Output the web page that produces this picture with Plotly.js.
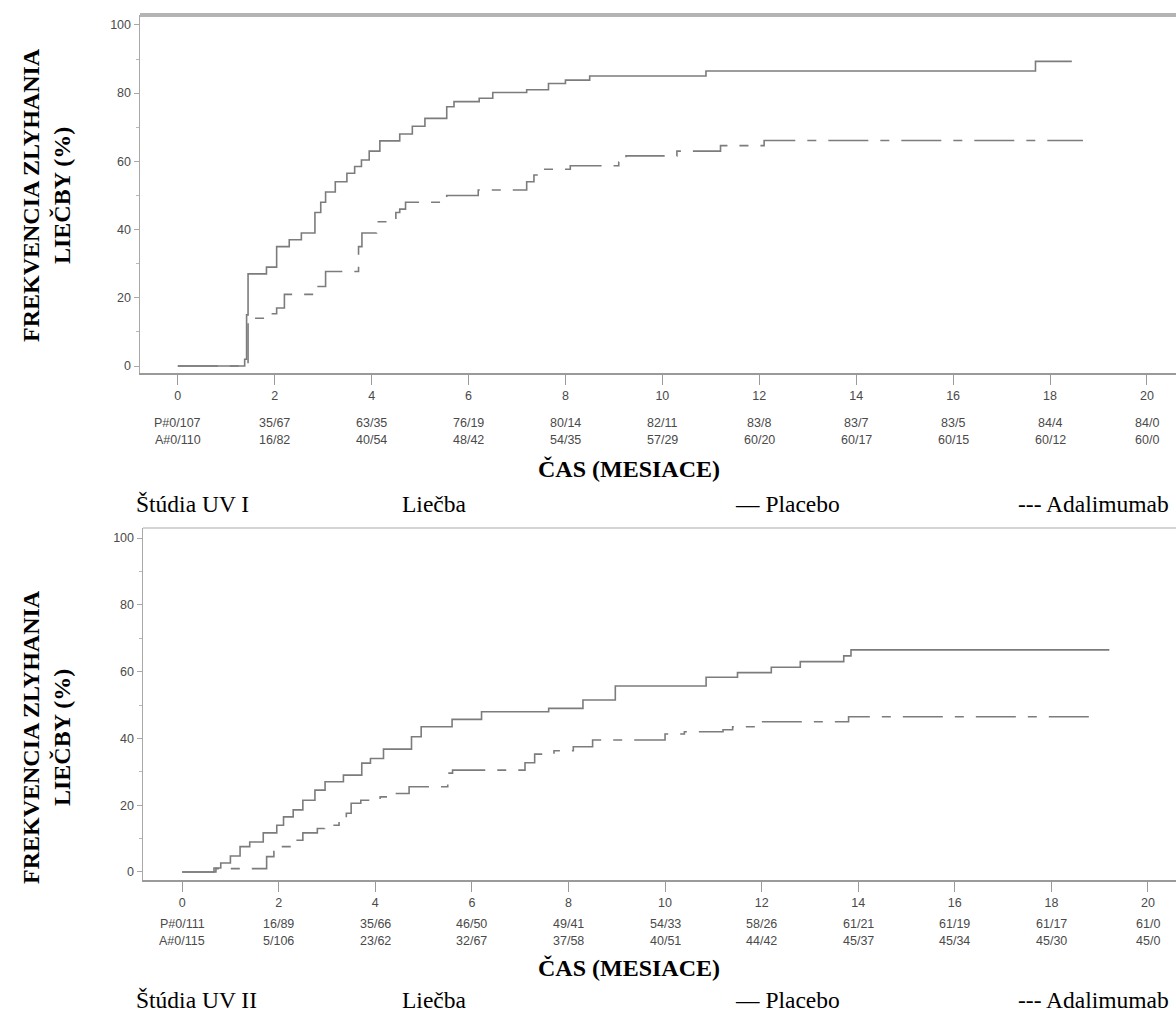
<!DOCTYPE html>
<html>
<head>
<meta charset="utf-8">
<script src="https://cdn.plot.ly/plotly-3.0.1.min.js"></script>
<style>
html,body{margin:0;padding:0;background:#ffffff;}
#chart{width:1176px;height:1023px;}
</style>
</head>
<body>
<div id="chart"></div>
<script>
// ---------- DATA ----------
const monthTicks = [0, 2, 4, 6, 8, 10, 12, 14, 16, 18, 20];
const monthTickLabels = ['0', '2', '4', '6', '8', '10', '12', '14', '16', '18', '20'];
const rateTicks = [0, 20, 40, 60, 80, 100];
const rateTickLabels = ['0', '20', '40', '60', '80', '100'];

// Study UV I
const uv1PlaceboMonths = [0, 1.38, 1.42, 1.45, 1.83, 2.04, 2.3, 2.55, 2.83, 2.95, 3.05, 3.25, 3.49, 3.65, 3.79, 3.95, 4.17, 4.58, 4.84, 5.1, 5.55, 5.7, 6.22, 6.5, 7.2, 7.65, 8.0, 8.5, 10.9, 17.7, 18.45];
const uv1PlaceboRate   = [0, 2, 15, 27, 29, 35, 37, 39, 45, 48, 51, 54, 56.5, 58.5, 60.4, 63, 66, 68, 70.3, 72.6, 76, 77.5, 78.5, 80.2, 81, 82.8, 83.8, 85, 86.5, 89.3, 89.3];
const uv1AdaMonths = [0, 1.45, 1.83, 2.04, 2.2, 2.83, 3.05, 3.73, 3.8, 4.1, 4.5, 4.58, 4.7, 5.55, 6.2, 7.2, 7.35, 7.55, 8.1, 9.1, 9.25, 10.3, 11.2, 12.1, 18.68];
const uv1AdaRate   = [0, 14, 15.3, 17, 21, 23.3, 27.7, 35, 39, 42.3, 45, 46, 48, 50, 51.6, 54, 56, 57.7, 58.7, 59.8, 61.6, 63, 64.6, 66.1, 66.1];
const uv1RiskPlacebo = ['P#0/107', '35/67', '63/35', '76/19', '80/14', '82/11', '83/8', '83/7', '83/5', '84/4', '84/0'];
const uv1RiskAda     = ['A#0/110', '16/82', '40/54', '48/42', '54/35', '57/29', '60/20', '60/17', '60/15', '60/12', '60/0'];

// Study UV II
const uv2PlaceboMonths = [0, 0.66, 0.8, 1.0, 1.2, 1.4, 1.68, 1.96, 2.1, 2.3, 2.5, 2.75, 2.96, 3.34, 3.72, 3.9, 4.17, 4.75, 4.95, 5.59, 6.2, 7.59, 8.3, 8.97, 10.85, 11.5, 12.2, 12.8, 13.7, 13.85, 19.2];
const uv2PlaceboRate   = [0, 1.2, 2.7, 4.8, 7.6, 9, 11.7, 14, 16.5, 18.6, 21.5, 24.5, 27, 29, 32.6, 34, 36.8, 40.5, 43.5, 45.7, 48, 49, 51.5, 55.7, 58.3, 59.7, 61.3, 63, 64.7, 66.5, 66.5];
const uv2AdaMonths = [0, 0.7, 1.75, 1.9, 2.3, 2.5, 2.8, 2.95, 3.25, 3.4, 3.5, 3.7, 4.1, 4.3, 4.7, 5.5, 5.6, 7.1, 7.3, 7.7, 8.1, 8.5, 10.0, 10.4, 11.2, 11.4, 11.9, 13.8, 18.86];
const uv2AdaRate   = [0, 1, 4.6, 7.6, 9.5, 11.7, 13, 14, 15, 17.6, 20.6, 21.5, 22.5, 23.5, 25.5, 29.6, 30.5, 32.7, 35.3, 36.3, 37.5, 39.5, 41.3, 42, 42.6, 43.5, 45, 46.5, 46.5];
const uv2RiskPlacebo = ['P#0/111', '16/89', '35/66', '46/50', '49/41', '54/33', '58/26', '61/21', '61/19', '61/17', '61/0'];
const uv2RiskAda     = ['A#0/115', '5/106', '23/62', '32/67', '37/58', '40/51', '44/42', '45/37', '45/34', '45/30', '45/0'];

const yTitle = 'FREKVENCIA ZLYHANIA<br>LIEČBY (%)';
const xTitle = 'ČAS (MESIACE)';
const studyNames = ['Štúdia UV I', 'Štúdia UV II'];
const treatmentLabel = 'Liečba';
const placeboLabel = '— Placebo';
const adaLabel = '--- Adalimumab';

// ---------- LAYOUT HELPERS ----------
const W = 1176, H = 1023;
const px = v => v / W;
const py = v => 1 - v / H;

const lineGray = '#7c7c7c';
const dashPattern = '40px,12px,9px,12px';
const tickFont = {family: 'Liberation Sans, Arial, sans-serif', size: 12.5, color: '#4a4a4a'};
const serifBold = {family: 'Liberation Serif, Times New Roman, serif', size: 24, color: '#000000'};
const serif = {family: 'Liberation Serif, Times New Roman, serif', size: 23.5, color: '#000000'};

function curve(x, y, xa, ya, dashed) {
  return {
    x: x, y: y, xaxis: xa, yaxis: ya, type: 'scatter', mode: 'lines',
    line: {shape: 'hv', color: lineGray, width: 1.6, dash: dashed ? dashPattern : 'solid'},
    hoverinfo: 'skip'
  };
}

const data = [
  curve(uv1PlaceboMonths, uv1PlaceboRate, 'x', 'y', false),
  curve(uv1AdaMonths, uv1AdaRate, 'x', 'y', true),
  curve(uv2PlaceboMonths, uv2PlaceboRate, 'x2', 'y2', false),
  curve(uv2AdaMonths, uv2AdaRate, 'x2', 'y2', true)
];

function xAxis(domainLeft, range, anchor) {
  return {
    domain: [px(domainLeft), 1], range: range, anchor: anchor,
    showline: true, linecolor: '#9a9a9a', linewidth: 2,
    ticks: 'outside', ticklen: 10, tickwidth: 1, tickcolor: '#9a9a9a',
    tickvals: monthTicks, ticktext: monthTickLabels, tickfont: tickFont,
    showgrid: false, zeroline: false, fixedrange: true
  };
}
function yAxis(bottomPx, topPx, range, anchor) {
  return {
    domain: [py(bottomPx), py(topPx)], range: range, anchor: anchor,
    showline: true, linecolor: '#a8a8a8', linewidth: 1.5,
    ticks: 'outside', ticklen: 5, tickwidth: 1, tickcolor: '#a8a8a8',
    tickvals: rateTicks, ticktext: rateTickLabels, tickfont: tickFont,
    minor: {ticks: 'outside', dtick: 10, ticklen: 3, tickcolor: '#b8b8b8', showgrid: false},
    showgrid: false, zeroline: false, fixedrange: true
  };
}

const annotations = [];
function riskRows(xref, rowP, rowA, yP, yA) {
  monthTicks.forEach((m, i) => {
    annotations.push({x: m, y: py(yP), xref: xref, yref: 'paper', text: rowP[i], showarrow: false,
      xanchor: 'center', yanchor: 'middle', font: tickFont});
    annotations.push({x: m, y: py(yA), xref: xref, yref: 'paper', text: rowA[i], showarrow: false,
      xanchor: 'center', yanchor: 'middle', font: tickFont});
  });
}
riskRows('x', uv1RiskPlacebo, uv1RiskAda, 423, 440);
riskRows('x2', uv2RiskPlacebo, uv2RiskAda, 924, 941);

function panelText(yTitleCenter, xTitleY, captionY, study) {
  annotations.push({x: px(46), y: py(yTitleCenter), xref: 'paper', yref: 'paper', text: '<b>' + yTitle + '</b>',
    textangle: -90, showarrow: false, xanchor: 'center', yanchor: 'middle', font: serifBold});
  annotations.push({x: px(629), y: py(xTitleY), xref: 'paper', yref: 'paper', text: '<b>' + xTitle + '</b>',
    showarrow: false, xanchor: 'center', yanchor: 'middle', font: serifBold});
  annotations.push({x: px(134), y: py(captionY), xref: 'paper', yref: 'paper', text: study,
    showarrow: false, xanchor: 'left', yanchor: 'middle', font: serif});
  annotations.push({x: px(400), y: py(captionY), xref: 'paper', yref: 'paper', text: treatmentLabel,
    showarrow: false, xanchor: 'left', yanchor: 'middle', font: serif});
  annotations.push({x: px(733), y: py(captionY), xref: 'paper', yref: 'paper', text: placeboLabel,
    showarrow: false, xanchor: 'left', yanchor: 'middle', font: serif});
  annotations.push({x: px(1171), y: py(captionY), xref: 'paper', yref: 'paper', text: adaLabel,
    showarrow: false, xanchor: 'right', yanchor: 'middle', font: serif});
}
panelText(195, 469, 504, studyNames[0]);
panelText(737, 968, 1000, studyNames[1]);

const layout = {
  width: W, height: H,
  margin: {l: 0, r: 0, t: 0, b: 0, pad: 0},
  paper_bgcolor: '#ffffff', plot_bgcolor: '#ffffff',
  showlegend: false, hovermode: false,
  xaxis: xAxis(140, [-0.78, 20.6], 'y'),
  yaxis: yAxis(373, 15, [-2.05, 102.9], 'x'),
  xaxis2: xAxis(143, [-0.81, 20.58], 'y2'),
  yaxis2: yAxis(880, 528, [-2.4, 103], 'x2'),
  shapes: [
    {type: 'line', xref: 'x domain', yref: 'y domain', x0: 0, x1: 1, y0: 1, y1: 1,
      line: {color: '#b4b4b4', width: 4}},
    {type: 'line', xref: 'x2 domain', yref: 'y2 domain', x0: 0, x1: 1, y0: 1, y1: 1,
      line: {color: '#d4d4d4', width: 2}}
  ],
  annotations: annotations
};

Plotly.newPlot('chart', data, layout, {staticPlot: true, displayModeBar: false});
</script>
</body>
</html>
